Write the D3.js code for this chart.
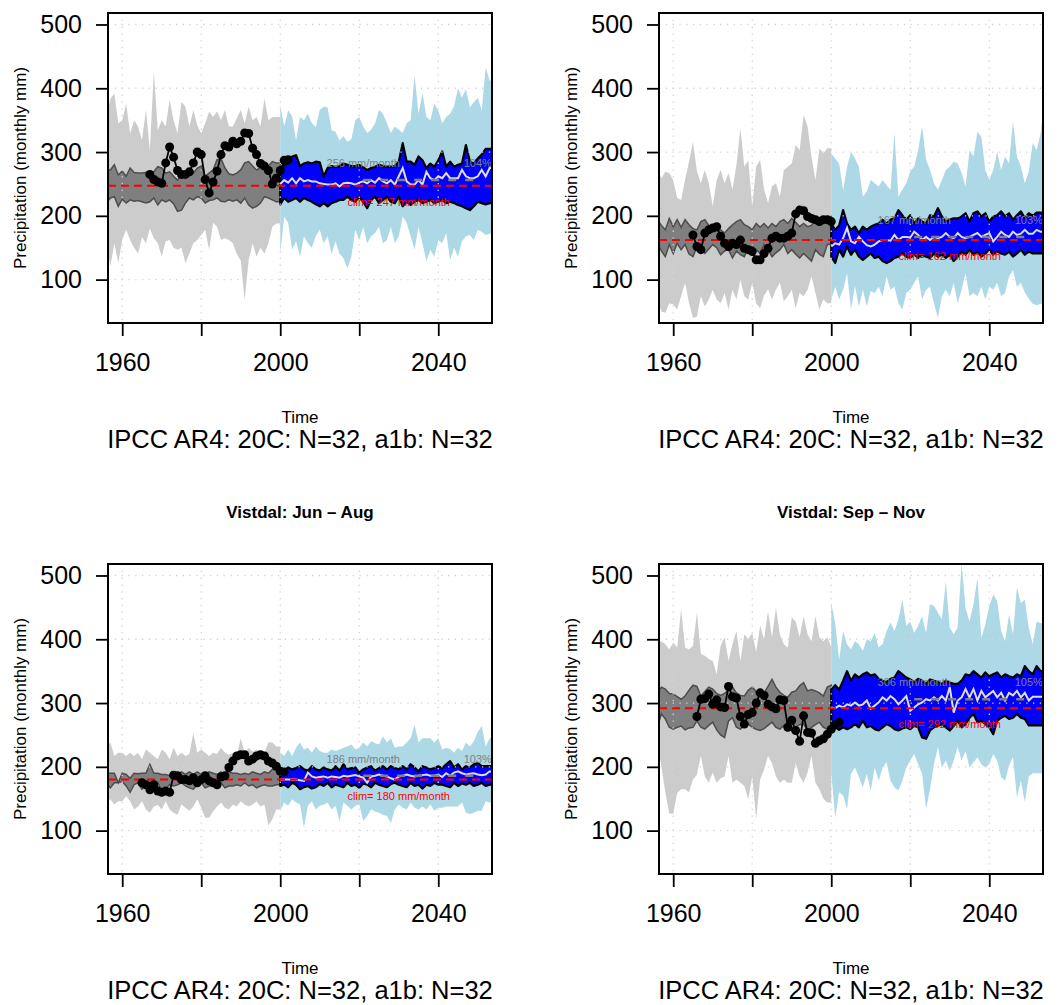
<!DOCTYPE html>
<html>
<head>
<meta charset="utf-8">
<script src="https://cdn.jsdelivr.net/npm/d3@7"></script>
<style>
  body { margin: 0; background: #fff; }
  svg { display: block; font-family: "Liberation Sans", Arial, Helvetica, sans-serif; }
</style>
</head>
<body>
<div id="chart"></div>
<script>
// Years covered by the two model periods
const firstYear20c = 1956;
const firstYearA1b = 2000;

// Axis ticks
const xTicks = [1960, 1980, 2000, 2020, 2040];
const xTickLabels = [1960, 2000, 2040];
const yTicks = [100, 200, 300, 400, 500];

// Panel texts and summary values
const panelTitles = [null, null, "Vistdal: Jun \u2013 Aug", "Vistdal: Sep \u2013 Nov"];
const climValues = [247, 162, 180, 292];
const futureMeans = [256, 167, 186, 306];
const changePct = [104, 103, 103, 105];
const obsStartYears = [1967, 1965, 1965, 1966];

// Dec - Feb (top left)
const djfHi20 = [356,383,392,345,350,376,329,350,340,319,366,303,427,334,350,340,382,350,329,379,371,340,366,342,329,345,363,355,364,350,366,340,340,353,366,345,371,350,355,340,384,350,355,355,355];
const djfLo20 = [157,121,157,126,162,178,162,150,141,167,157,180,165,157,136,160,162,150,147,150,126,141,157,162,170,178,147,189,183,162,165,162,157,140,130,68,130,157,136,150,141,157,183,188,188];
const djfInHi20 = [272,272,280,264,270,262,275,268,267,267,268,268,269,277,275,267,269,262,256,265,262,265,267,275,278,262,267,272,288,290,275,266,264,267,272,283,285,278,272,275,280,278,285,283,283];
const djfInLo20 = [220,228,230,215,226,220,225,223,224,222,220,222,228,217,225,222,225,219,207,209,220,228,225,230,228,220,224,225,228,223,222,225,223,225,220,228,217,212,215,220,230,228,225,222,222];
const djfHiA1b = [373,340,365,356,318,355,350,360,345,339,366,371,370,334,332,318,325,316,320,350,355,340,330,335,345,366,360,345,330,340,335,330,345,350,421,360,392,355,350,376,365,345,355,360,372,400,385,399,370,378,385,365,433,412,412];
const djfLoA1b = [141,198,189,147,160,136,168,157,150,168,178,157,168,140,160,140,134,118,136,178,162,183,157,168,173,183,157,162,183,157,168,199,189,168,147,183,157,129,147,136,162,157,173,131,150,136,160,168,170,162,178,175,170,172,172];
const djfInHiA1b = [265,280,282,293,295,278,282,284,282,285,284,262,275,278,277,278,282,280,278,278,280,276,272,275,277,280,278,277,277,278,285,314,285,285,280,293,287,275,282,277,287,301,277,285,277,280,282,311,285,282,290,296,305,305,305];
const djfInLoA1b = [218,228,222,225,228,222,228,225,222,218,215,220,215,220,222,225,225,230,225,222,230,222,212,225,230,220,225,230,222,220,230,215,222,217,222,225,220,222,225,220,222,225,220,222,220,217,215,212,209,215,222,220,218,220,220];
const djfMeanA1b = [250,256,252,259,251,259,254,256,254,254,251,250,249,249,251,246,251,252,251,249,252,254,251,256,252,259,254,251,256,249,262,275,254,249,249,256,249,269,259,256,262,259,267,259,259,259,272,262,259,259,262,272,262,275,275];
const djfObs = [265,257,253,251,283,308,292,271,265,265,269,283,300,296,257,236,253,270,296,310,308,317,313,317,330,329,306,296,282,278,271,250,259,271,287,288];

// Mar - May (top right)
const mamHi20 = [277,259,269,267,256,228,225,256,285,316,270,251,272,251,215,256,272,251,267,241,280,337,277,287,215,277,288,241,220,246,251,230,272,277,282,311,303,358,340,293,256,306,298,306,306];
const mamLo20 = [69,50,48,63,61,53,74,95,63,40,42,74,58,69,84,69,63,79,53,84,69,100,74,69,95,63,55,75,85,69,84,95,66,74,84,55,79,74,84,105,79,53,69,63,63];
const mamInHi20 = [194,185,178,196,183,194,182,194,186,180,178,191,194,185,178,176,178,173,180,186,191,194,186,183,178,188,182,188,181,188,183,191,194,188,196,190,183,188,183,185,196,190,188,199,199];
const mamInLo20 = [157,145,136,155,141,157,147,155,140,136,152,147,141,148,155,150,139,145,147,134,145,139,136,150,152,147,141,155,147,136,142,147,155,141,147,140,134,141,135,129,147,140,136,155,155];
const mamHiA1b = [298,290,282,240,277,300,290,277,230,238,256,251,246,256,248,241,330,230,241,251,270,277,303,340,288,272,251,241,256,272,277,285,282,267,246,303,293,332,324,272,256,272,300,272,293,282,348,293,277,251,270,314,303,330,380];
const mamLoA1b = [69,89,69,84,110,53,90,58,84,58,82,79,89,74,105,84,89,63,53,79,84,95,105,69,84,89,63,40,74,84,74,95,63,84,110,74,79,74,89,69,89,84,95,74,79,105,115,89,95,80,70,62,60,62,62];
const mamInHiA1b = [188,178,185,209,188,178,183,173,183,178,183,186,188,194,188,194,196,209,201,194,201,188,196,191,188,201,199,212,199,191,194,196,196,199,204,191,204,207,199,204,191,199,201,207,199,204,194,201,207,196,204,200,205,205,205];
const mamInLoA1b = [136,126,147,136,152,139,147,136,131,136,141,134,136,129,126,129,134,136,141,136,134,139,134,139,136,134,141,136,139,134,139,129,136,144,139,147,139,144,136,141,147,139,144,141,139,144,136,141,147,139,144,141,141,141,141];
const mamMeanA1b = [152,157,155,165,181,160,157,167,160,154,152,155,160,162,162,161,170,162,167,167,166,175,170,162,167,162,167,165,167,173,167,165,173,167,165,167,170,173,167,170,173,160,167,175,170,167,175,170,172,178,172,172,178,175,175];
const mamObs = [170,152,147,173,178,181,183,168,157,152,157,155,162,149,147,144,131,131,141,149,165,168,165,165,168,173,203,209,208,199,196,194,191,194,194,191];

// Jun - Aug (bottom left)
const jjaHi20 = [232,238,217,222,222,217,222,217,222,212,227,222,217,212,227,222,212,230,217,222,217,220,253,222,227,222,217,222,220,230,222,219,222,217,245,222,230,224,227,222,222,238,238,232,232];
const jjaLo20 = [144,149,141,146,146,154,146,133,138,146,133,128,138,140,133,146,133,128,125,141,136,131,138,149,136,120,120,130,138,144,136,133,141,138,146,141,138,141,146,138,141,108,118,133,133];
const jjaInHi20 = [190,190,190,175,190,188,182,190,189,190,190,204,190,190,188,188,186,190,188,192,188,192,188,192,188,188,192,190,188,192,186,192,190,190,188,190,188,192,190,188,192,190,196,199,199];
const jjaInLo20 = [175,167,175,175,177,170,160,172,175,165,172,172,170,175,162,165,172,170,172,175,170,167,165,172,175,167,170,172,170,175,167,170,170,172,170,175,170,172,167,170,172,170,170,172,172];
const jjaHiA1b = [222,217,227,217,230,238,227,230,222,232,225,222,222,227,225,227,230,232,235,227,230,238,232,240,237,235,248,238,245,230,232,232,238,245,266,238,245,245,245,238,245,227,230,228,222,230,225,238,232,240,255,264,232,245,245];
const jjaLoA1b = [131,144,139,149,144,141,105,139,146,133,139,141,144,133,139,115,144,139,133,139,141,115,123,133,130,128,125,123,112,133,141,136,133,144,136,133,138,133,141,131,136,136,138,138,138,138,144,128,126,128,131,131,146,144,144];
const jjaInHiA1b = [196,194,199,196,198,201,196,194,201,196,194,199,196,194,201,194,204,196,198,199,191,196,199,201,194,198,201,196,201,198,196,201,196,204,199,193,201,199,196,198,201,198,204,209,199,204,196,201,199,204,206,201,201,201,201];
const jjaInLoA1b = [170,172,168,175,172,165,168,170,166,168,173,170,175,168,172,170,168,175,170,172,167,174,172,168,175,172,170,168,173,175,172,170,168,175,170,172,166,172,170,175,172,172,170,168,175,170,174,172,175,170,172,175,170,172,172];
const jjaMeanA1b = [180,180,180,180,180,179,178,191,185,183,184,185,183,185,184,183,186,185,186,187,185,183,175,185,186,188,186,185,182,180,185,186,188,186,185,186,187,188,186,186,188,184,190,186,191,193,190,188,189,190,188,187,188,193,191];
const jjaObs = [175,172,164,172,162,160,162,160,187,186,180,180,178,183,175,180,186,178,175,172,184,186,199,209,217,219,219,209,212,217,219,217,209,206,201,193,192];

// Sep - Nov (bottom right)
const sonHi20 = [390,397,392,384,395,387,447,387,384,390,442,377,374,369,366,345,390,403,366,392,413,366,408,400,410,380,421,400,444,403,449,408,392,387,434,428,403,436,408,397,436,403,397,403,387];
const sonLo20 = [240,200,160,127,126,159,165,165,160,180,188,217,185,175,191,175,182,185,217,175,180,175,170,149,185,118,180,196,217,206,185,175,180,175,175,206,185,175,191,217,175,165,150,144,144];
const sonInHi20 = [317,325,322,315,314,310,306,311,320,328,326,311,318,325,322,315,312,315,321,325,316,312,311,320,325,318,314,316,326,337,325,317,312,309,317,319,327,332,319,321,319,316,311,325,328];
const sonInLo20 = [262,283,275,262,259,262,264,258,261,262,272,262,259,265,270,258,250,246,272,277,262,259,265,267,262,259,257,260,265,270,262,259,265,267,257,262,266,267,257,262,266,270,262,259,262];
const sonHiA1b = [457,425,368,413,392,384,397,392,382,400,397,410,387,392,413,426,413,431,462,421,428,410,421,436,410,455,452,442,431,491,418,408,418,520,449,428,455,496,402,423,452,470,460,413,397,439,408,481,457,462,418,392,428,425,425];
const sonLoA1b = [191,120,160,155,134,189,199,184,168,189,163,199,178,199,207,178,168,163,178,199,210,220,204,189,134,165,204,231,199,210,194,210,231,210,225,199,207,215,204,199,204,220,210,184,178,202,215,152,178,145,185,190,190,190,190];
const sonInHiA1b = [321,328,321,335,350,335,345,340,345,348,343,345,338,335,333,338,340,350,345,340,337,333,338,335,330,337,335,333,330,335,332,330,330,335,345,343,350,345,340,348,342,345,348,340,345,342,340,345,342,358,350,345,358,350,350];
const sonInLoA1b = [265,262,258,262,259,262,267,262,272,262,264,259,257,262,267,264,259,257,260,262,259,264,262,246,244,257,262,264,267,262,257,264,272,262,267,277,283,270,272,267,262,251,272,277,280,275,277,283,277,275,265,265,265,265,265];
const sonMeanA1b = [293,292,296,293,298,296,301,296,298,304,291,296,301,309,304,311,306,298,304,311,288,293,298,301,306,304,309,304,311,304,325,285,304,309,322,309,322,304,319,309,314,319,309,316,304,316,312,319,309,316,304,310,310,310,310];
const sonObs = [279,306,307,314,298,305,294,293,326,310,308,279,267,282,285,300,316,312,298,294,291,305,304,262,273,257,240,280,254,253,237,241,244,251,259,266,270];

// Bundle the arrays per panel
const panels = [
    { hi20: djfHi20, lo20: djfLo20, inHi20: djfInHi20, inLo20: djfInLo20, hiA: djfHiA1b, loA: djfLoA1b, inHiA: djfInHiA1b, inLoA: djfInLoA1b, meanA: djfMeanA1b, obs: djfObs },
    { hi20: mamHi20, lo20: mamLo20, inHi20: mamInHi20, inLo20: mamInLo20, hiA: mamHiA1b, loA: mamLoA1b, inHiA: mamInHiA1b, inLoA: mamInLoA1b, meanA: mamMeanA1b, obs: mamObs },
    { hi20: jjaHi20, lo20: jjaLo20, inHi20: jjaInHi20, inLo20: jjaInLo20, hiA: jjaHiA1b, loA: jjaLoA1b, inHiA: jjaInHiA1b, inLoA: jjaInLoA1b, meanA: jjaMeanA1b, obs: jjaObs },
    { hi20: sonHi20, lo20: sonLo20, inHi20: sonInHi20, inLo20: sonInLo20, hiA: sonHiA1b, loA: sonLoA1b, inHiA: sonInHiA1b, inLoA: sonInLoA1b, meanA: sonMeanA1b, obs: sonObs }
];

// Layout of the 2x2 grid
const colLeft = [108, 659];
const rowTop = [13, 564];
const plotW = 384, plotH = 310;

const svg = d3.select("#chart")
    .append("svg")
    .attr("width", 1061)
    .attr("height", 1005);
const defs = svg.append("defs");

// Scales shared by all panels
const x = d3.scaleLinear().domain([1956.4, 2053.6]).range([0, plotW]);
const y = d3.scaleLinear().domain([32, 518]).range([plotH, 0]);

const outerArea = d3.area().x(d => x(d.yr)).y0(d => y(d.lo)).y1(d => y(d.hi));
const innerArea = d3.area().x(d => x(d.yr)).y0(d => y(d.ilo)).y1(d => y(d.ihi));
const line = d3.line().x(d => x(d.yr)).y(d => y(d.v));

panels.forEach(function (p, i) {
    const col = i % 2, row = Math.floor(i / 2);
    const g = svg.append("g")
        .attr("transform", `translate(${colLeft[col]},${rowTop[row]})`);

    defs.append("clipPath").attr("id", "clip" + i)
        .append("rect").attr("width", plotW).attr("height", plotH);
    const plot = g.append("g").attr("clip-path", `url(#clip${i})`);

    const rows20 = p.hi20.map((v, k) => ({ yr: firstYear20c + k, hi: v, lo: p.lo20[k], ihi: p.inHi20[k], ilo: p.inLo20[k] }));
    const rowsA = p.hiA.map((v, k) => ({ yr: firstYearA1b + k, hi: v, lo: p.loA[k], ihi: p.inHiA[k], ilo: p.inLoA[k] }));

    // Outer ranges
    plot.append("path").datum(rows20).attr("d", outerArea).attr("fill", "#cccccc");
    plot.append("path").datum(rowsA).attr("d", outerArea).attr("fill", "#add8e6");

    // Inner ranges
    plot.append("path").datum(rows20).attr("d", innerArea)
        .attr("fill", "#7f7f7f").attr("stroke", "#4d4d4d").attr("stroke-width", 1.5);
    plot.append("path").datum(rowsA).attr("d", innerArea)
        .attr("fill", "#0000ff").attr("stroke", "#000").attr("stroke-width", 2.2)
        .attr("stroke-linejoin", "round");

    // Dotted grid
    plot.selectAll(".vgrid").data(xTicks).enter().append("line")
        .attr("x1", d => x(d)).attr("x2", d => x(d)).attr("y1", 0).attr("y2", plotH)
        .attr("stroke", "#d3d3d3").attr("stroke-width", 1.3).attr("stroke-dasharray", "1.3,5.5");
    plot.selectAll(".hgrid").data(yTicks).enter().append("line")
        .attr("x1", 0).attr("x2", plotW).attr("y1", d => y(d)).attr("y2", d => y(d))
        .attr("stroke", "#d3d3d3").attr("stroke-width", 1.3).attr("stroke-dasharray", "1.3,5.5");

    // Ensemble mean of the scenario
    plot.append("path")
        .datum(p.meanA.map((v, k) => ({ yr: firstYearA1b + k, v: v })))
        .attr("d", line).attr("fill", "none")
        .attr("stroke", "#dedede").attr("stroke-width", 2);

    // Future mean and climatology
    plot.append("line")
        .attr("x1", x(2021)).attr("x2", x(2050))
        .attr("y1", y(futureMeans[i])).attr("y2", y(futureMeans[i]))
        .attr("stroke", "#808080").attr("stroke-width", 2.5).attr("stroke-dasharray", "8,9");
    plot.append("line")
        .attr("x1", 0).attr("x2", plotW)
        .attr("y1", y(climValues[i])).attr("y2", y(climValues[i]))
        .attr("stroke", "#ff0000").attr("stroke-width", 2).attr("stroke-dasharray", "8,5");

    // Observations
    const obsRows = p.obs.map((v, k) => ({ yr: obsStartYears[i] + k, v: v }));
    plot.append("path").datum(obsRows).attr("d", line)
        .attr("fill", "none").attr("stroke", "#000").attr("stroke-width", 1.8);
    plot.selectAll(".obs").data(obsRows).enter().append("circle")
        .attr("cx", d => x(d.yr)).attr("cy", d => y(d.v)).attr("r", 4.5).attr("fill", "#000");

    // Annotations
    g.append("text")
        .attr("x", x(2021)).attr("y", y(futureMeans[i]) - 13)
        .attr("text-anchor", "middle").attr("font-size", 11).attr("fill", "#7f7f7f")
        .text(futureMeans[i] + " mm/month");
    g.append("text")
        .attr("x", x(2050)).attr("y", y(futureMeans[i]) - 13)
        .attr("text-anchor", "middle").attr("font-size", 11).attr("fill", "#7f7f7f")
        .text(changePct[i] + "%");
    g.append("text")
        .attr("x", x(2030)).attr("y", y(climValues[i]) + 20)
        .attr("text-anchor", "middle").attr("font-size", 11).attr("fill", "#ff0000")
        .text("clim= " + climValues[i] + " mm/month");

    // Plot box
    g.append("rect")
        .attr("width", plotW).attr("height", plotH)
        .attr("fill", "none").attr("stroke", "#000").attr("stroke-width", 2);

    // Add y-axis
    const yAxis = g.append("g")
        .call(d3.axisLeft(y).tickValues(yTicks).tickSize(12).tickPadding(14));
    yAxis.select(".domain").remove();
    yAxis.selectAll("line").attr("stroke-width", 1.8);
    yAxis.selectAll("text").attr("font-size", 25).attr("font-family", "Liberation Sans, Arial, sans-serif").attr("fill", "#000");

    // Add x-axis
    const xAxis = g.append("g")
        .attr("transform", `translate(0,${plotH})`)
        .call(d3.axisBottom(x).tickValues(xTicks).tickSize(13).tickPadding(17)
            .tickFormat(d => xTickLabels.includes(d) ? d : ""));
    xAxis.select(".domain").remove();
    xAxis.selectAll("line").attr("stroke-width", 1.8);
    xAxis.selectAll("text").attr("font-size", 25).attr("font-family", "Liberation Sans, Arial, sans-serif").attr("fill", "#000");

    // Add axis labels
    g.append("text")
        .attr("transform", "rotate(-90)")
        .attr("x", -plotH / 2).attr("y", -82)
        .attr("text-anchor", "middle").attr("font-size", 17)
        .text("Precipitation (monthly mm)");
    g.append("text")
        .attr("x", plotW / 2).attr("y", plotH + 100)
        .attr("text-anchor", "middle").attr("font-size", 17)
        .text("Time");
    g.append("text")
        .attr("x", plotW / 2).attr("y", plotH + 125)
        .attr("text-anchor", "middle").attr("font-size", 25.5)
        .text("IPCC AR4: 20C: N=32, a1b: N=32");

    // Add panel title
    if (panelTitles[i]) {
        g.append("text")
            .attr("x", plotW / 2).attr("y", -46)
            .attr("text-anchor", "middle").attr("font-size", 17).attr("font-weight", "bold")
            .text(panelTitles[i]);
    }
});
</script>
</body>
</html>
